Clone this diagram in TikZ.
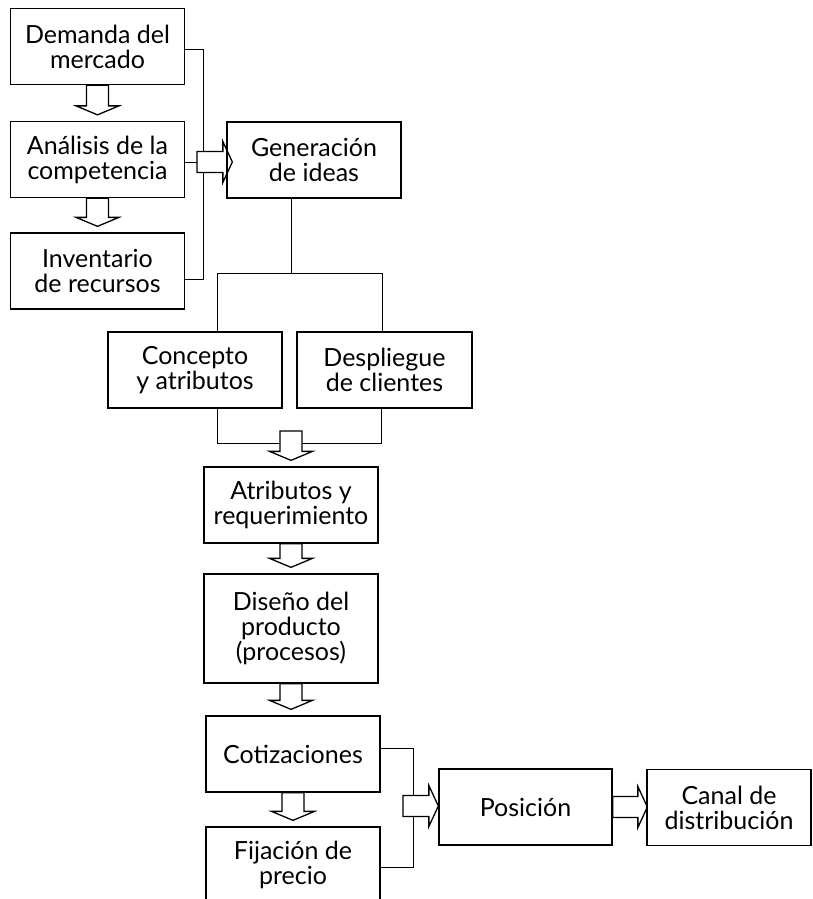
\documentclass[tikz,border=0pt]{standalone}
\usepackage{fontspec}
\setmainfont{Lato}
\usetikzlibrary{calc}
\pgfdeclarelayer{lines}
\pgfdeclarelayer{arrows}
\pgfsetlayers{lines,arrows,main}
\newcommand\myvarr[2]{%
  \path[barrow] let \p1=(#1), \p2=(#2.north) in
    (\x1-11pt,\y1) -- (\x1-11pt,\y2+15pt) -- (\x1-21.5pt,\y2+15pt) -- (\x1,\y2+6pt)
    -- (\x1+21.5pt,\y2+15pt) -- (\x1+11pt,\y2+15pt) -- (\x1+11pt,\y1) -- cycle;}
\newcommand\myharr[2]{%
  \path[barrow] let \p1=(#1), \p2=(#2) in
    (\x1,\y1+10.5pt) -- (\x2-9.5pt,\y1+10.5pt) -- (\x2-9.5pt,\y1+20.5pt) -- (\x2,\y1)
    -- (\x2-9.5pt,\y1-20.5pt) -- (\x2-9.5pt,\y1-10.5pt) -- (\x1,\y1-10.5pt) -- cycle;}
\begin{document}
\begin{tikzpicture}[x=1pt,y=-1pt,line width=1.3pt,
  box/.style={draw, minimum width=174pt, minimum height=76pt, align=center,
    inner sep=0pt, font=\fontsize{25}{25}\selectfont},
  barrow/.style={draw, fill=white, line width=1.3pt, line join=miter}]
\clip (0,0) rectangle (812,899);
% boxes
\node[box] (dem) at (97.5,46.5) {Demanda del\\mercado};
\node[box] (ana) at (97.5,159.5) {Análisis de la\\competencia};
\node[box] (inv) at (97.5,271) {Inventario\\de recursos};
\node[box] (gen) at (314,160) {Generación\\de ideas};
\node[box] (con) at (195,370) {Concepto\\y atributos};
\node[box, minimum width=175pt] (des) at (384.5,370) {Despliegue\\de clientes};
\node[box] (atr) at (291,505) {Atributos y\\requerimiento};
\node[box, minimum height=109pt] (dis) at (291,628.5) {Diseño del\\producto\\(procesos)};
\node[box] (cot) at (293,754) {Cotizaciones};
\node[box] (fij) at (293,865) {Fijación de\\precio};
\node[box, minimum width=173pt] (pos) at (525.5,807) {Posición};
\node[box, minimum width=164pt] (can) at (729,807.5) {Canal de\\distribución};
% helper coordinates
\coordinate (demc) at ([yshift=-2.5pt]dem.east);
\coordinate (anac) at ([yshift=-2.5pt]ana.east);
\coordinate (invc) at ([yshift=-8pt]inv.east);
\coordinate (busL) at (203.5,0);
\coordinate (ha1) at (197,162);
\coordinate (gtip) at ([xshift=6pt]gen.west);
\coordinate (gs) at ([xshift=-23pt]gen.south);
\coordinate (yB) at (0,273);
\coordinate (cn) at ([xshift=22.5pt]con.north);
\coordinate (dn) at ([xshift=-2.5pt]des.north);
\coordinate (cs) at ([xshift=22.5pt]con.south);
\coordinate (ds) at ([xshift=-3pt]des.south);
\coordinate (yC) at (0,443);
\coordinate (yA) at (0,431);
\coordinate (va) at (atr.north |- yA);
\coordinate (cotc) at ([yshift=6pt]cot.east);
\coordinate (fijc) at ([yshift=-2pt]fij.east);
\coordinate (busR) at (413,0);
\coordinate (ha2) at (403,806);
\coordinate (ptip) at (pos.west);
\coordinate (ctip) at ([xshift=1pt]can.west);
% connector lines
\begin{pgfonlayer}{lines}
\draw (demc) -- (demc -| busL) -- (invc -| busL) -- (invc);
\draw (anac) -- (anac -| busL);
\draw (gs) -- (gs |- yB);
\draw (cn) -- (cn |- yB) -- (dn |- yB) -- (dn);
\draw (cs) -- (cs |- yC) -- (ds |- yC) -- (ds);
\draw (cotc) -- (cotc -| busR) -- (fijc -| busR) -- (fijc);
\end{pgfonlayer}
% block arrows
\begin{pgfonlayer}{arrows}
\myvarr{dem.south}{ana}
\myvarr{ana.south}{inv}
\myharr{ha1}{gtip}
\myvarr{va}{atr}
\myvarr{atr.south}{dis}
\myvarr{dis.south}{cot}
\myvarr{cot.south}{fij}
\myharr{ha2}{ptip}
\myharr{pos.east}{ctip}
\end{pgfonlayer}
\end{tikzpicture}
\end{document}
